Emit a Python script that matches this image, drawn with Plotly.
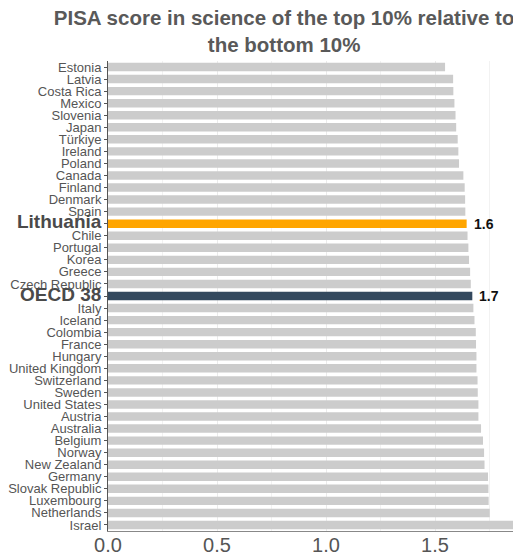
import plotly.graph_objects as go

countries = ["Estonia", "Latvia", "Costa Rica", "Mexico", "Slovenia", "Japan", "Türkiye",
             "Ireland", "Poland", "Canada", "Finland", "Denmark", "Spain", "Lithuania",
             "Chile", "Portugal", "Korea", "Greece", "Czech Republic", "OECD 38", "Italy",
             "Iceland", "Colombia", "France", "Hungary", "United Kingdom", "Switzerland",
             "Sweden", "United States", "Austria", "Australia", "Belgium", "Norway",
             "New Zealand", "Germany", "Slovak Republic", "Luxembourg", "Netherlands", "Israel"]
values = [1.546, 1.583, 1.584, 1.589, 1.594, 1.597, 1.604, 1.607, 1.610, 1.630, 1.636,
          1.638, 1.639, 1.645, 1.649, 1.653, 1.656, 1.661, 1.664, 1.671, 1.676, 1.681,
          1.687, 1.688, 1.690, 1.690, 1.695, 1.696, 1.699, 1.699, 1.711, 1.720, 1.725,
          1.727, 1.743, 1.745, 1.746, 1.751, 1.90]
highlight = {"Lithuania": "#FFA500", "OECD 38": "#34495E"}
label_values = {"Lithuania": "1.6", "OECD 38": "1.7"}
x_ticks = [0.0, 0.5, 1.0, 1.5]

colors = [highlight.get(c, "#CCCCCC") for c in countries]
ticktext = [f"<b><span style='font-size:19px;color:#4a4a4a'>{c}</span></b>" if c in highlight else c
            for c in countries]

fig = go.Figure(go.Bar(
    x=values, y=countries, orientation="h",
    marker=dict(color=colors, line=dict(width=0)),
    hoverinfo="x+y", cliponaxis=True,
))

for c, v in zip(countries, values):
    if c in label_values:
        fig.add_annotation(x=v, y=c, text=f"<b>{label_values[c]}</b>", showarrow=False,
                           xanchor="left", xshift=5, font=dict(size=14, color="#111111"))

fig.update_layout(
    width=521, height=555,
    margin=dict(l=100, r=0, t=53, b=32, autoexpand=False),
    paper_bgcolor="white", plot_bgcolor="white",
    font=dict(family="Liberation Sans, Arial, sans-serif", color="#555555"),
    title=dict(text="<b>PISA score in science of the top 10% relative to<br>the bottom 10%</b>",
               x=0.53, xanchor="center", y=0.969, yanchor="top",
               font=dict(size=20.5, color="#595959")),
    bargap=0.3,
    showlegend=False,
)
fig.update_xaxes(
    range=[0, 1.931], tickvals=x_ticks, ticktext=[f"{t:.1f}" for t in x_ticks],
    showgrid=True, gridcolor="#EBEBEB", gridwidth=1,
    minor=dict(dtick=0.25, tick0=0, showgrid=True, gridcolor="#F2F2F2", gridwidth=1),
    showline=True, linecolor="#888888", linewidth=1,
    ticks="", tickfont=dict(size=20, color="#555555"), zeroline=False,
    automargin=False, ticklabelstandoff=-4,
)
fig.update_yaxes(
    autorange="reversed", tickmode="array", tickvals=countries, ticktext=ticktext,
    showline=True, linecolor="#555555", linewidth=1,
    ticks="outside", ticklen=3, tickcolor="#555555",
    tickfont=dict(size=13, color="#555555"), showgrid=False,
    automargin=False,
)

fig.write_html("out.html")
